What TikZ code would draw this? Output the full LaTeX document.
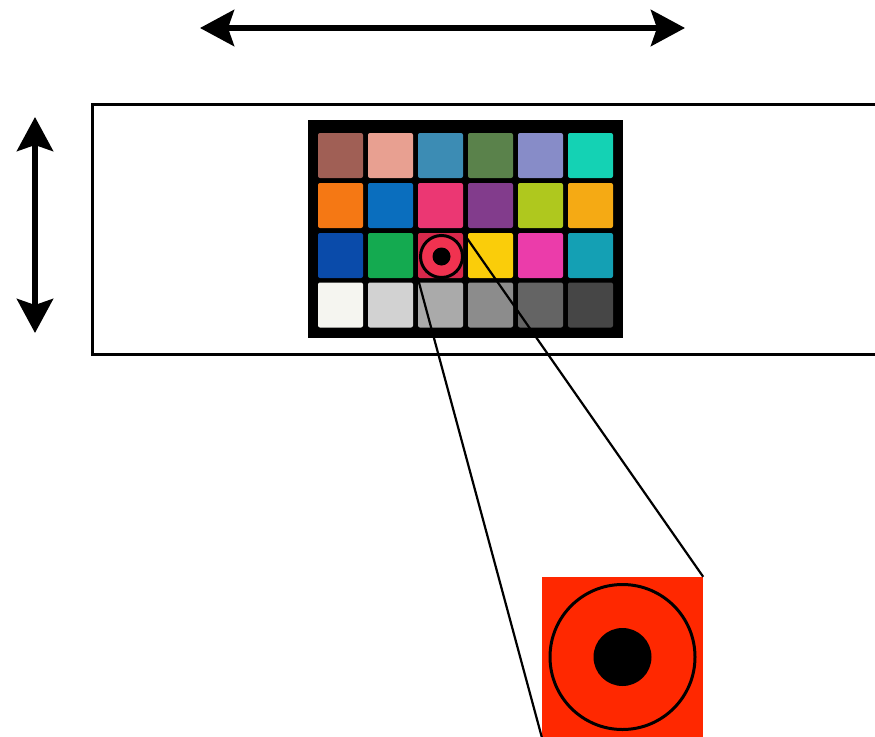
\documentclass[tikz,border=0pt]{standalone}
\usepackage{tikz}
\usetikzlibrary{arrows.meta,positioning}
\definecolor{cA1}{RGB}{160,95,85}
\definecolor{cA2}{RGB}{232,160,145}
\definecolor{cA3}{RGB}{60,140,180}
\definecolor{cA4}{RGB}{90,130,75}
\definecolor{cA5}{RGB}{135,140,200}
\definecolor{cA6}{RGB}{20,210,180}
\definecolor{cB1}{RGB}{245,120,20}
\definecolor{cB2}{RGB}{10,110,190}
\definecolor{cB3}{RGB}{235,55,115}
\definecolor{cB4}{RGB}{130,60,140}
\definecolor{cB5}{RGB}{175,200,30}
\definecolor{cB6}{RGB}{245,170,20}
\definecolor{cC1}{RGB}{10,75,170}
\definecolor{cC2}{RGB}{20,170,80}
\definecolor{cC3}{RGB}{215,40,75}
\definecolor{cC4}{RGB}{250,205,10}
\definecolor{cC5}{RGB}{235,60,170}
\definecolor{cC6}{RGB}{20,160,180}
\definecolor{cD1}{RGB}{245,245,240}
\definecolor{cD2}{RGB}{210,210,210}
\definecolor{cD3}{RGB}{170,170,170}
\definecolor{cD4}{RGB}{140,140,140}
\definecolor{cD5}{RGB}{100,100,100}
\definecolor{cD6}{RGB}{70,70,70}
\definecolor{spotred}{RGB}{240,50,80}
\definecolor{zoomred}{RGB}{255,40,0}
\tikzstyle{patch}=[rectangle, minimum size=45pt, inner sep=0pt, rounded corners=2pt]
\tikzstyle{chart}=[rectangle, fill=black, minimum width=315pt, minimum height=218pt, inner sep=0pt]
\tikzstyle{ring}=[circle, draw=black, inner sep=0pt]
\tikzstyle{dot}=[circle, fill=black, inner sep=0pt]
\tikzstyle{dblarrow}=[line width=6pt, {Stealth[length=34pt,width=36pt,inset=6pt]}-{Stealth[length=34pt,width=36pt,inset=6pt]}]
\tikzstyle{ray}=[line width=2.2pt]
\begin{document}
\begin{tikzpicture}[x=1pt,y=-1pt]
\useasboundingbox (0,0) rectangle (875,736);
%Arrows
\coordinate (hl) at (200,28);
\coordinate (hr) at (685,28);
\coordinate (vt) at (35,117);
\coordinate (vb) at (35,333);
\draw[dblarrow] (hl) -- (hr);
\draw[dblarrow] (vt) -- (vb);
%Frame
\draw[line width=3pt] (876,104) -- (92,104) -- (92,354) -- (876,354);
%Chart
\node[chart] (chart) at (465.5,229) {};
%Row One
\node[patch,fill=cA1] (a1) at (340.5,155.5){};
\node[patch,fill=cA2] (a2) at (390.5,155.5){};
\node[patch,fill=cA3] (a3) at (440.5,155.5){};
\node[patch,fill=cA4] (a4) at (490.5,155.5){};
\node[patch,fill=cA5] (a5) at (540.5,155.5){};
\node[patch,fill=cA6] (a6) at (590.5,155.5){};
%Row Two
\node[patch,fill=cB1] (b1) at (340.5,205.5){};
\node[patch,fill=cB2] (b2) at (390.5,205.5){};
\node[patch,fill=cB3] (b3) at (440.5,205.5){};
\node[patch,fill=cB4] (b4) at (490.5,205.5){};
\node[patch,fill=cB5] (b5) at (540.5,205.5){};
\node[patch,fill=cB6] (b6) at (590.5,205.5){};
%Row Three
\node[patch,fill=cC1] (c1) at (340.5,255.5){};
\node[patch,fill=cC2] (c2) at (390.5,255.5){};
\node[patch,fill=cC3] (c3) at (440.5,255.5){};
\node[patch,fill=cC4] (c4) at (490.5,255.5){};
\node[patch,fill=cC5] (c5) at (540.5,255.5){};
\node[patch,fill=cC6] (c6) at (590.5,255.5){};
%Row Four
\node[patch,fill=cD1] (d1) at (340.5,305){};
\node[patch,fill=cD2] (d2) at (390.5,305){};
\node[patch,fill=cD3] (d3) at (440.5,305){};
\node[patch,fill=cD4] (d4) at (490.5,305){};
\node[patch,fill=cD5] (d5) at (540.5,305){};
\node[patch,fill=cD6] (d6) at (590.5,305){};
%Spot
\node[ring,fill=spotred,line width=3pt,minimum size=42pt] (spot) at (441.5,256.5){};
\node[dot,minimum size=18pt] (spotdot) at (spot.center){};
%Zoom
\node[rectangle,fill=zoomred,minimum width=161pt,minimum height=160pt,inner sep=0pt] (zoom) at (622.5,657){};
\node[ring,line width=3pt,minimum size=145pt] (zring) at (zoom.center){};
\node[dot,minimum size=58pt] (zdot) at (zoom.center){};
%Rays
\draw[ray] (c3.south west) -- (zoom.south west);
\draw[ray] (c3.north east) -- (zoom.north east);
\end{tikzpicture}
\end{document}
